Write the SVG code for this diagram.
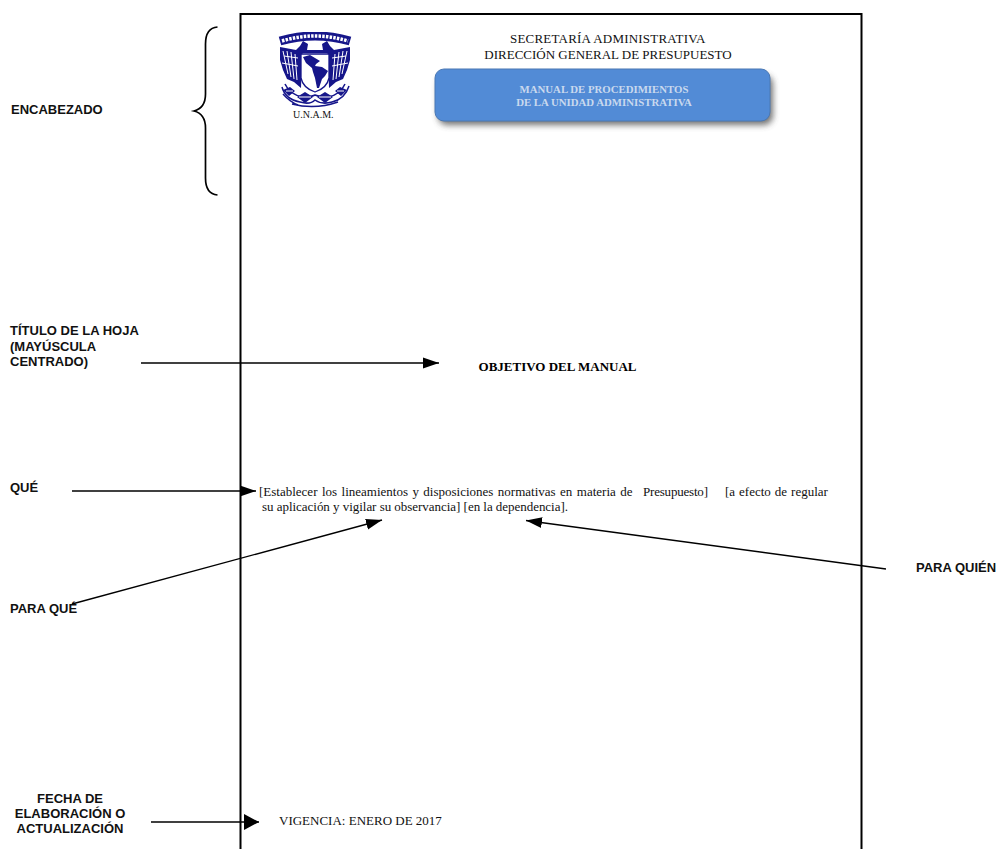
<svg xmlns="http://www.w3.org/2000/svg" width="998" height="849" viewBox="0 0 998 849">
<style>
.l{font-family:"Liberation Sans",Arial,sans-serif;font-size:13px;font-weight:bold;fill:#111}
.t{font-family:"Liberation Serif","Times New Roman",serif;font-size:13px;fill:#111}
.c{stroke:#000;stroke-width:1.4;fill:none}
.n{fill:#14148a}
.w{stroke:#fff;stroke-width:1;fill:none}
.b{stroke:#14148a;stroke-width:1.500;fill:none}
.m{font-family:"Liberation Serif","Times New Roman",serif;font-size:10.800px;font-weight:bold;fill:#c9d9ee}
</style>
<defs>
<marker id="a" markerUnits="userSpaceOnUse" markerWidth="17" markerHeight="14" refX="16" refY="6.500" orient="auto"><path d="M0 1L16 6.500L0 12Z" fill="#000"/></marker>
<marker id="a2" markerUnits="userSpaceOnUse" markerWidth="17" markerHeight="16" refX="15" refY="8" orient="auto"><path d="M0 0L15 8L0 16Z" fill="#000"/></marker>
<filter id="s" x="-10%" y="-30%" width="120%" height="170%"><feGaussianBlur stdDeviation="3.200"/></filter>
<filter id="r" x="-5%" y="-5%" width="110%" height="110%"><feGaussianBlur stdDeviation="0.350"/></filter>
</defs>
<rect width="998" height="849" fill="#fff"/>
<g id="page"><path d="M240.500 849V14H861.500V849" fill="none" stroke="#000" stroke-width="2"/></g>
<g id="emblem">
<g filter="url(#r)">
<path d="M280 41Q315 31 350 41" fill="none" stroke="#14148a" stroke-width="9"/>
<path d="M282 41Q315 31 348 41" fill="none" stroke="#fff" stroke-width="3.500" stroke-dasharray="2.500 1.200"/>
<path class="n" d="M280 47L296 50L300 46L303 41L308 44L307 50L302 54L301 88L294 82L287 79L283 70L280 60Z"/>
<path class="n" d="M350 47L334 50L330 46L327 41L322 44L323 50L328 54L329 88L336 82L343 79L347 70L350 60Z"/>
<path class="w" d="M283 51L288 74M287 51L291 77M291 52L294 79M295 54L297 80M347 51L342 74M343 51L339 77M339 52L336 79M335 54L333 80M298 58L284 56M332 58L346 56M282 63L298 66M348 63L332 66"/>
<path d="M301 54H329V78Q327 88 315 92Q303 88 301 78Z" fill="#fff" stroke="#14148a" stroke-width="1.300"/>
<path class="n" d="M303 57L310 55L320 61L316 64L315 66L322 67L328 71L325 76L322 79L319 88L317 88L315 78L313 72L312 68L306 63Z"/>
<path class="n" d="M302 50H328V53H302Z"/>
<path class="b" d="M282 87Q285 99 300 102Q310 105 315 100Q322 105 332 102Q345 99 349 86"/>
<path class="b" d="M285 84Q290 95 303 97Q311 97 315 95Q320 97 328 97Q340 95 345 84"/>
<path class="n" d="M283 90L290 87L295 91L289 96ZM347 90L340 87L335 91L341 96ZM297 97L305 92L313 97L305 103ZM333 97L325 92L317 97L325 103Z"/>
<path class="w" d="M286 91L293 91M344 91L337 91M299 97L311 97M331 97L319 97"/>
<path class="b" d="M292 104Q315 110 338 102M283 94Q290 102 298 105"/>
</g>
<text class="t" x="293" y="117.500" style="font-size:10px">U.N.A.M.</text>
</g>
<g id="header-text">
<text class="t" x="510" y="43" textLength="195.500">SECRETARÍA ADMINISTRATIVA</text>
<text class="t" x="608" y="58.500" text-anchor="middle">DIRECCIÓN GENERAL DE PRESUPUESTO</text>
</g>
<g id="manual-box">
<rect x="438" y="75" width="335" height="50" rx="9" fill="#444" opacity=".75" filter="url(#s)"/>
<rect x="435" y="69" width="335" height="52" rx="9" fill="#528bd6" stroke="#4a78b4"/>
<text class="m" x="604" y="93" text-anchor="middle">MANUAL DE PROCEDIMIENTOS</text>
<text class="m" x="604" y="106" text-anchor="middle">DE LA UNIDAD ADMINISTRATIVA</text>
</g>
<g id="title"><text class="t" x="557.500" y="370.500" font-weight="bold" text-anchor="middle" style="fill:#000">OBJETIVO DEL MANUAL</text></g>
<g id="body">
<text class="t" x="259" y="495.500" word-spacing="1.200">[Establecer los lineamientos y disposiciones normativas en materia de</text>
<text class="t" x="643" y="495.500" textLength="65">Presupuesto]</text>
<text class="t" x="725" y="495.500" word-spacing="0.750">[a efecto de regular</text>
<text class="t" x="262" y="510.500" textLength="306">su aplicación y vigilar su observancia] [en la dependencia].</text>
</g>
<g id="vigencia"><text class="t" x="279" y="824.500">VIGENCIA: ENERO DE 2017</text></g>
<g id="label-encabezado"><text class="l" x="11" y="113.500">ENCABEZADO</text></g>
<g id="label-titulo">
<text class="l" x="10" y="335">TÍTULO DE LA HOJA</text>
<text class="l" x="10" y="351">(MAYÚSCULA</text>
<text class="l" x="10" y="366">CENTRADO)</text>
</g>
<g id="label-que"><text class="l" x="10" y="492">QUÉ</text></g>
<g id="label-paraque"><text class="l" x="10" y="613">PARA QUÉ</text></g>
<g id="label-paraquien"><text class="l" x="916" y="572">PARA QUIÉN</text></g>
<g id="label-fecha">
<text class="l" x="70" y="803" text-anchor="middle">FECHA DE</text>
<text class="l" x="70" y="818" text-anchor="middle">ELABORACIÓN O</text>
<text class="l" x="70" y="833" text-anchor="middle">ACTUALIZACIÓN</text>
</g>
<g id="connectors">
<path d="M217.500 27Q205.500 28 205.500 44V94Q205.500 108 194 111Q205.500 114 205.500 128V178Q205.500 194 217.500 195" fill="none" stroke="#000" stroke-width="1.700"/>
<path class="c" marker-end="url(#a)" d="M141 363H439"/>
<path class="c" marker-end="url(#a)" d="M72 491H256"/>
<path class="c" marker-end="url(#a)" d="M72 604L382 520"/>
<path class="c" marker-end="url(#a)" d="M886 569L526 520.500"/>
<path class="c" marker-end="url(#a2)" d="M151 822H259"/>
</g>
</svg>
